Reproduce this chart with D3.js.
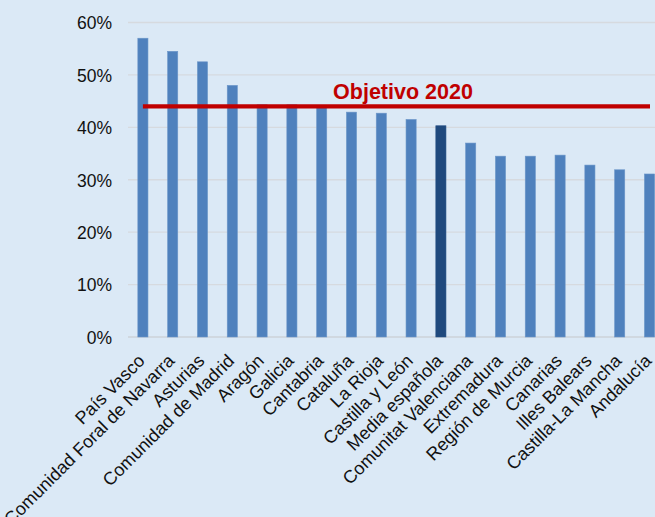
<!DOCTYPE html>
<html>
<head>
<meta charset="utf-8">
<script src="https://cdn.jsdelivr.net/npm/d3@7"></script>
<style>
  body { margin: 0; background: #dbe9f6; }
  svg { display: block; }
  text { font-family: "Liberation Sans", Arial, sans-serif; fill: #111; }
</style>
</head>
<body>
<div id="chart"></div>
<script>
// datos
const regiones = ["País Vasco", "Comunidad Foral de Navarra", "Asturias", "Comunidad de Madrid",
  "Aragón", "Galicia", "Cantabria", "Cataluña", "La Rioja", "Castilla y León", "Media española",
  "Comunitat Valenciana", "Extremadura", "Región de Murcia", "Canarias", "Illes Balears",
  "Castilla-La Mancha", "Andalucía"];
const valores = [57.0, 54.5, 52.5, 48.0, 44.3, 44.3, 43.9, 42.9, 42.7, 41.5, 40.3,
  37.0, 34.5, 34.5, 34.7, 32.8, 31.9, 31.1];
const ticksY = [0, 10, 20, 30, 40, 50, 60];
const objetivo = 44;
const objetivoLabel = "Objetivo 2020";
const destacada = "Media española";

const width = 655, height = 517;
const svg = d3.select("#chart").append("svg")
  .attr("width", width)
  .attr("height", height);

svg.append("rect").attr("width", width).attr("height", height).attr("fill", "#dbe9f6");

// el área del gráfico continúa fuera del recorte por la derecha
const x = d3.scaleBand()
  .domain(regiones)
  .range([128, 664.4])
  .paddingInner(0.66)
  .paddingOuter(0.33);

const y = d3.scaleLinear()
  .domain([0, 60])
  .range([337, 22.5]);

// rejilla
svg.append("g")
  .selectAll("line")
  .data(ticksY)
  .enter().append("line")
  .attr("x1", 128)
  .attr("x2", 664)
  .attr("y1", d => y(d))
  .attr("y2", d => y(d))
  .attr("stroke", d => d === 0 ? "#cdd2d8" : "#d6dadf")
  .attr("stroke-width", 1.3);

// eje y
const ejeY = svg.append("g")
  .attr("transform", "translate(112,0)")
  .call(d3.axisLeft(y).tickValues(ticksY).tickFormat(d => d + "%").tickSize(0).tickPadding(0));
ejeY.select(".domain").remove();
ejeY.selectAll("text")
  .style("font-family", "Liberation Sans, Arial, sans-serif")
  .style("font-size", "17.5px")
  .attr("fill", "#111")
  .attr("dy", "0.36em");

// barras
svg.append("g")
  .selectAll("rect")
  .data(regiones)
  .enter().append("rect")
  .attr("x", d => x(d))
  .attr("width", x.bandwidth())
  .attr("y", (d, i) => y(valores[i]))
  .attr("height", (d, i) => y(0) - y(valores[i]))
  .attr("fill", d => d === destacada ? "#1f497d" : "#4f81bd")
  .attr("stroke", d => d === destacada ? "#2a5488" : "#6b96c9")
  .attr("stroke-width", 0.6);

// línea objetivo
svg.append("line")
  .attr("x1", x(regiones[0]) + x.bandwidth() / 2)
  .attr("x2", 650)
  .attr("y1", y(objetivo))
  .attr("y2", y(objetivo))
  .attr("stroke", "#c00000")
  .attr("stroke-width", 4.3);

svg.append("text")
  .attr("x", 403)
  .attr("y", y(objetivo) - 7)
  .attr("text-anchor", "middle")
  .style("font-size", "21.5px")
  .style("font-weight", "bold")
  .style("fill", "#c00000")
  .text(objetivoLabel);

// etiquetas del eje x
svg.append("g")
  .selectAll("text")
  .data(regiones)
  .enter().append("text")
  .attr("transform", d => `translate(${x(d) + x.bandwidth() / 2 + 3},${362}) rotate(-45)`)
  .attr("text-anchor", "end")
  .style("font-size", "18px")
  .text(d => d);
</script>
</body>
</html>
